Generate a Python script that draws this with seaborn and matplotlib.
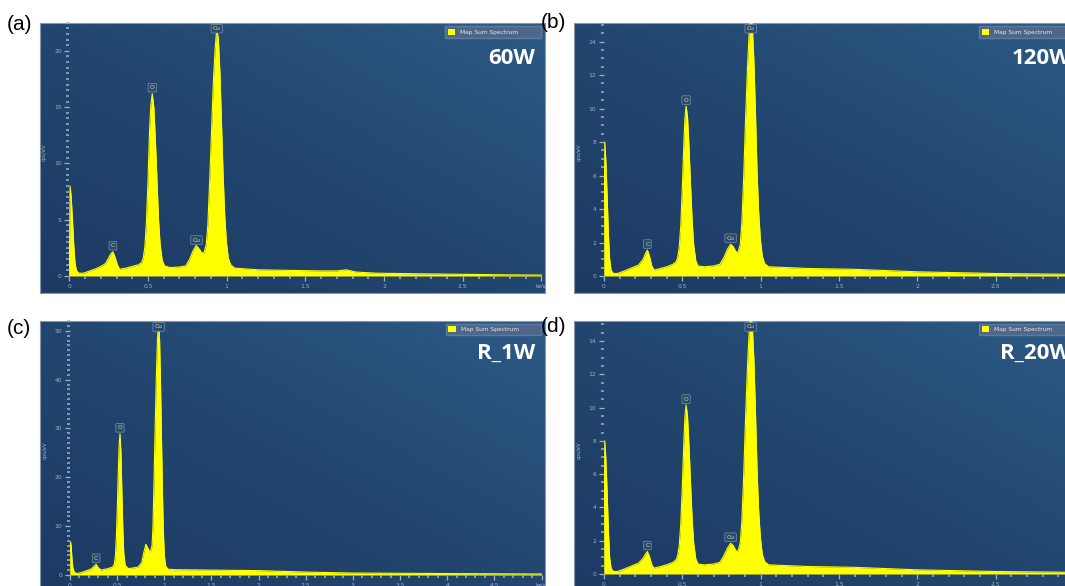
import numpy as np
import matplotlib
matplotlib.use('Agg')
import matplotlib.pyplot as plt
from matplotlib.colors import LinearSegmentedColormap
from matplotlib.patches import Patch
from matplotlib.ticker import MultipleLocator
import seaborn as sns

# ---- EDS spectra (energy in keV, intensity in cps/eV) ----
energy_a = [0.000, 0.005, 0.012, 0.020, 0.028, 0.036, 0.045, 0.060, 0.090, 0.130, 0.170, 0.200,
            0.230, 0.250, 0.265, 0.277, 0.290, 0.305, 0.320, 0.360, 0.400, 0.440, 0.460, 0.470,
            0.480, 0.490, 0.500, 0.510, 0.518, 0.527, 0.537, 0.547, 0.557, 0.567, 0.577, 0.590,
            0.605, 0.640, 0.700, 0.740, 0.765, 0.785, 0.805, 0.820, 0.840, 0.855, 0.870, 0.880,
            0.892, 0.904, 0.916, 0.928, 0.937, 0.947, 0.957, 0.967, 0.977, 0.987, 0.998, 1.010,
            1.025, 1.050, 1.200, 1.400, 1.600, 1.700, 1.760, 1.820, 1.950, 2.200, 2.500, 2.800,
            3.000]
counts_a = [0.0, 8.0, 7.0, 5.0, 2.8, 1.2, 0.5, 0.25, 0.25, 0.45, 0.65, 0.85,
            1.1, 1.6, 2.0, 2.15, 1.7, 1.0, 0.6, 0.7, 0.85, 1.0, 1.2, 1.6,
            2.6, 4.8, 8.5, 13.0, 15.2, 16.2, 15.0, 12.0, 8.5, 5.0, 2.8, 1.4,
            0.9, 0.75, 0.8, 0.9, 1.5, 2.2, 2.7, 2.5, 2.1, 2.0, 2.8, 4.5,
            8.5, 13.0, 17.5, 20.5, 22.0, 21.0, 18.0, 13.5, 9.0, 5.5, 3.0, 1.6,
            1.0, 0.7, 0.55, 0.5, 0.45, 0.45, 0.55, 0.35, 0.25, 0.2, 0.15, 0.1,
            0.08]

energy_b = [0.000, 0.005, 0.012, 0.020, 0.028, 0.036, 0.045, 0.060, 0.085, 0.130, 0.180, 0.220,
            0.250, 0.265, 0.277, 0.290, 0.305, 0.320, 0.360, 0.400, 0.440, 0.460, 0.470, 0.480,
            0.490, 0.500, 0.510, 0.517, 0.524, 0.533, 0.543, 0.553, 0.563, 0.573, 0.586, 0.600,
            0.640, 0.700, 0.740, 0.765, 0.788, 0.808, 0.825, 0.842, 0.855, 0.870, 0.880, 0.892,
            0.904, 0.916, 0.928, 0.936, 0.946, 0.956, 0.966, 0.976, 0.986, 0.998, 1.010, 1.025,
            1.050, 1.300, 1.600, 2.000, 2.500, 3.000]
counts_b = [0.0, 8.0, 6.8, 4.8, 2.5, 1.0, 0.35, 0.15, 0.15, 0.3, 0.5, 0.65,
            1.0, 1.35, 1.55, 1.2, 0.6, 0.35, 0.45, 0.55, 0.7, 0.85, 1.1, 1.7,
            3.0, 5.3, 8.0, 9.5, 10.15, 9.5, 7.6, 5.3, 3.2, 1.8, 0.9, 0.6,
            0.55, 0.6, 0.7, 1.1, 1.6, 1.9, 1.75, 1.45, 1.4, 1.9, 3.2, 6.0,
            9.5, 12.5, 14.8, 15.6, 15.0, 13.0, 10.0, 6.5, 4.0, 2.2, 1.2, 0.75,
            0.55, 0.45, 0.4, 0.25, 0.15, 0.1]

energy_c = [0.000, 0.005, 0.012, 0.020, 0.030, 0.045, 0.070, 0.120, 0.180, 0.230, 0.255, 0.277,
            0.300, 0.330, 0.400, 0.450, 0.470, 0.482, 0.492, 0.502, 0.512, 0.522, 0.530, 0.540,
            0.550, 0.560, 0.570, 0.585, 0.620, 0.720, 0.760, 0.785, 0.805, 0.825, 0.850, 0.870,
            0.880, 0.892, 0.904, 0.916, 0.928, 0.940, 0.950, 0.960, 0.970, 0.980, 0.990, 1.000,
            1.015, 1.040, 1.100, 1.500, 2.000, 2.500, 3.000, 4.000, 5.000]
counts_c = [0.0, 6.8, 6.0, 3.5, 1.5, 0.6, 0.3, 0.5, 0.9, 1.3, 1.8, 2.2,
            1.5, 1.0, 1.3, 1.6, 2.2, 4.0, 8.0, 14.0, 21.0, 27.0, 28.9, 25.0,
            17.0, 9.5, 4.5, 2.0, 1.3, 1.6, 2.5, 4.8, 6.3, 5.5, 4.6, 6.0,
            10.0, 20.0, 31.0, 41.0, 48.5, 51.5, 48.0, 39.0, 28.0, 17.0, 9.0, 4.0,
            1.8, 1.2, 1.1, 1.0, 0.9, 0.6, 0.4, 0.3, 0.2]

energy_d = [0.000, 0.005, 0.012, 0.020, 0.028, 0.036, 0.045, 0.060, 0.085, 0.130, 0.180, 0.220,
            0.250, 0.265, 0.277, 0.290, 0.305, 0.320, 0.360, 0.400, 0.440, 0.460, 0.470, 0.480,
            0.490, 0.500, 0.510, 0.517, 0.524, 0.533, 0.543, 0.553, 0.563, 0.573, 0.586, 0.600,
            0.640, 0.700, 0.740, 0.765, 0.788, 0.808, 0.825, 0.842, 0.855, 0.870, 0.880, 0.892,
            0.904, 0.916, 0.928, 0.936, 0.946, 0.956, 0.966, 0.976, 0.986, 0.998, 1.010, 1.025,
            1.050, 1.300, 1.600, 2.000, 2.500, 3.000]
counts_d = [0.0, 8.0, 6.9, 4.9, 2.6, 1.0, 0.35, 0.15, 0.15, 0.3, 0.5, 0.65,
            0.95, 1.2, 1.35, 1.05, 0.55, 0.35, 0.45, 0.55, 0.7, 0.85, 1.1, 1.7,
            3.0, 5.3, 8.0, 9.5, 10.15, 9.5, 7.6, 5.3, 3.2, 1.8, 0.9, 0.6,
            0.55, 0.6, 0.7, 1.1, 1.55, 1.85, 1.7, 1.4, 1.35, 1.9, 3.2, 6.0,
            9.5, 12.5, 14.8, 15.6, 15.0, 13.0, 10.0, 6.5, 4.0, 2.2, 1.2, 0.75,
            0.55, 0.45, 0.4, 0.25, 0.15, 0.1]

peaks_a = [("C", 0.277), ("O", 0.527), ("Cu", 0.808), ("Cu", 0.937)]
peaks_b = [("C", 0.277), ("O", 0.524), ("Cu", 0.808), ("Cu", 0.936)]
peaks_c = [("C", 0.277), ("O", 0.530), ("Cu", 0.940)]
peaks_d = [("C", 0.277), ("O", 0.524), ("Cu", 0.808), ("Cu", 0.936)]

tags = ["60W", "120W", "R_1W", "R_20W"]
letters = ["(a)", "(b)", "(c)", "(d)"]

W, H = 1065, 586
fig = plt.figure(figsize=(W / 100, H / 100), dpi=100)
fig.patch.set_facecolor('white')

bg_cmap = LinearSegmentedColormap.from_list('eds', ['#1d3a63', '#22466f', '#2c5a86'])
tick_col = '#9fb1c6'


def frac(l, t, r, b):
    return [l / W, 1 - b / H, (r - l) / W, (b - t) / H]


def draw_panel(energy, counts, peaks, tag, letter, bg_px, ax_px, ymax, xmax,
               ymajor, yminor, label_px, legend_px, letter_px):
    # gradient background panel
    ax_bg = fig.add_axes(frac(*bg_px))
    yy, xx = np.mgrid[0:1:100j, 0:1:100j]
    grad = (xx + (1 - yy)) / 2
    ax_bg.imshow(grad, cmap=bg_cmap, aspect='auto', extent=[0, 1, 0, 1], origin='upper')
    ax_bg.set_xticks([])
    ax_bg.set_yticks([])
    for sp in ax_bg.spines.values():
        sp.set_color('#8796a8')
        sp.set_linewidth(0.8)

    ax = fig.add_axes(frac(*ax_px))
    ax.patch.set_alpha(0)
    ax.fill_between(energy, counts, 0, color='#ffff00', lw=0)
    sns.lineplot(x=energy, y=counts, ax=ax, color='#ffff00', lw=0.8, sort=False)
    ax.set_xlim(0, xmax)
    ax.set_ylim(0, ymax)
    for sp in ax.spines.values():
        sp.set_visible(False)

    xt = np.arange(0, xmax + 0.01, 0.5)
    ax.set_xticks(xt)
    ax.set_xticklabels([f"{v:g}" for v in xt[:-1]] + ["keV"])
    ax.xaxis.set_minor_locator(MultipleLocator(0.1))
    ax.yaxis.set_major_locator(MultipleLocator(ymajor))
    ax.yaxis.set_minor_locator(MultipleLocator(yminor))
    ax.tick_params(which='major', direction='out', length=3.5, width=0.9, color=tick_col,
                   labelcolor=tick_col, labelsize=4.3, pad=2)
    ax.tick_params(which='minor', direction='out', length=2, width=1.1, color=tick_col)
    ax.set_ylabel('cps/eV', fontsize=3.8, color=tick_col)
    ax.yaxis.set_label_coords(-0.048, 0.49)
    ax.set_xlabel('')

    # peak markers
    ax_h = ax_px[3] - ax_px[1]
    for name, e in peaks:
        h = np.interp(e, energy, counts)
        ypix = min(h / ymax * ax_h + 6, ax_h - 6)
        ax.annotate(name, xy=(e, ypix / ax_h), xycoords=('data', 'axes fraction'),
                    ha='center', va='center', fontsize=4.3, color='#e9e25a',
                    bbox=dict(boxstyle='round,pad=0.3,rounding_size=0.15', fc='#284a72',
                              ec='#7890ae', lw=0.5), annotation_clip=False)

    # legend box
    l, t, r, b = legend_px
    ax.legend(handles=[Patch(facecolor='#ffff00', edgecolor='none', label='Map Sum Spectrum')],
              loc='upper left', bbox_to_anchor=(l / W, 1 - b / H, (r - l) / W, (b - t) / H),
              bbox_transform=fig.transFigure, mode='expand', fontsize=4.2,
              facecolor='#4c6789', edgecolor='#5e7a9c', labelcolor='#e4eaf1',
              fancybox=False, framealpha=1, handlelength=1.3, handleheight=1.3,
              borderpad=0.45, handletextpad=0.8, borderaxespad=0)

    fig.text(label_px[0] / W, 1 - label_px[1] / H, tag, ha='right', va='center',
             fontsize=16, fontweight='bold', color='white', family=['Open Sans', 'DejaVu Sans'])
    fig.text(letter_px[0] / W, 1 - letter_px[1] / H, letter, ha='left', va='center',
             fontsize=15, color='black', family=['Liberation Sans', 'DejaVu Sans'])


draw_panel(energy_a, counts_a, peaks_a, tags[0], letters[0],
           (40, 22.7, 545, 293), (69.3, 22.7, 541.5, 276), 22.5, 3.0, 5, 0.5,
           (535, 59), (445, 26, 541, 40), (7, 24))
draw_panel(energy_b, counts_b, peaks_b, tags[1], letters[1],
           (574.3, 22.7, 1080, 293), (604, 22.7, 1074, 276), 15.13, 3.0, 2, 0.5,
           (1071, 59), (979, 26, 1075, 40), (541, 22))
draw_panel(energy_c, counts_c, peaks_c, tags[2], letters[2],
           (40, 321, 545, 591), (70, 321, 541.5, 575), 52, 5.0, 10, 1,
           (535, 353), (445.7, 323.5, 541, 338), (7, 328))
draw_panel(energy_d, counts_d, peaks_d, tags[3], letters[3],
           (574.3, 321, 1080, 591), (604, 321, 1074, 574), 15.2, 3.0, 2, 0.5,
           (1071, 353), (979, 323.5, 1075, 338), (541, 327))

fig.savefig('out.png', dpi=100)
